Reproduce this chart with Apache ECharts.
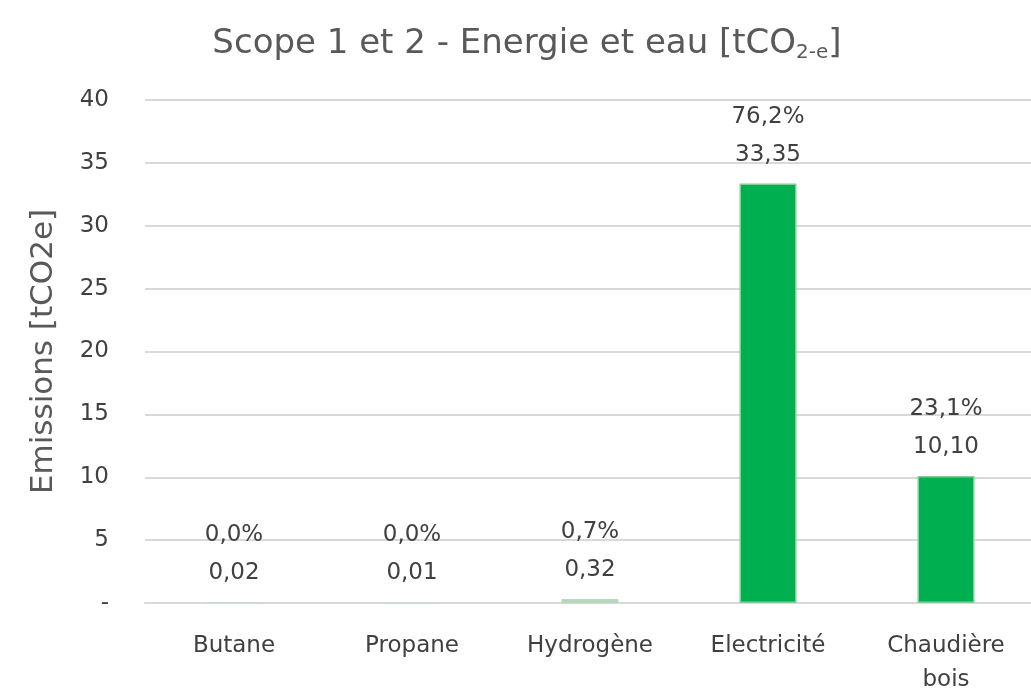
<!DOCTYPE html>
<html>
<head>
<meta charset="utf-8">
<script src="https://cdn.jsdelivr.net/npm/echarts@6/dist/echarts.min.js"></script>
<style>
  html, body { margin: 0; padding: 0; background: #fff; }
  #chart { width: 1031px; height: 690px; }
</style>
</head>
<body>
<div id="chart"></div>
<script>
// Emission sources (scope 1 & 2)
const categories = ['Butane', 'Propane', 'Hydrogène', 'Electricité', 'Chaudière\nbois'];
const emissions = [0.02, 0.01, 0.32, 33.35, 10.10];      // tCO2e
const shares = [0.0, 0.0, 0.7, 76.2, 23.1];              // % of total
const barColors = ['#c8dccb', '#c8dccb', '#b3d8bb', '#00b050', '#00b050'];
const yTicks = [0, 5, 10, 15, 20, 25, 30, 35, 40];

const fontFamily = '"DejaVu Sans", "Liberation Sans", sans-serif';
const fmt = (v, d) => v.toFixed(d).replace('.', ',');

const chart = echarts.init(document.getElementById('chart'));
chart.setOption({
  animation: false,
  backgroundColor: '#ffffff',
  title: {
    text: 'Scope 1 et 2 - Energie et eau [tCO{sub|2-e}]',
    left: 522,
    textAlign: 'center',
    top: 21,
    textStyle: {
      fontFamily: fontFamily,
      fontSize: 34,
      fontWeight: 'normal',
      color: '#595959',
      rich: {
        sub: { fontFamily: fontFamily, fontSize: 20, color: '#595959', verticalAlign: 'bottom', padding: [17, 0, 0, 0] }
      }
    }
  },
  grid: { left: 145, right: -4, top: 100, bottom: 87, containLabel: false, outerBoundsMode: 'none' },
  xAxis: {
    type: 'category',
    data: categories,
    axisLine: { show: true, lineStyle: { color: '#d9d9d9', width: 2 } },
    axisTick: { show: false },
    axisLabel: {
      margin: 26,
      fontFamily: fontFamily,
      fontSize: 23,
      color: '#404040',
      lineHeight: 34,
      interval: 0
    }
  },
  yAxis: {
    type: 'value',
    min: yTicks[0],
    max: yTicks[yTicks.length - 1],
    interval: yTicks[1] - yTicks[0],
    name: 'Emissions [tCO2e]',
    nameLocation: 'middle',
    nameGap: 86,
    nameTextStyle: { fontFamily: fontFamily, fontSize: 31, color: '#595959' },
    axisLine: { show: false },
    axisTick: { show: false },
    axisLabel: {
      margin: 36,
      fontFamily: fontFamily,
      fontSize: 23,
      color: '#404040',
      formatter: v => (v === 0 ? '-' : String(v))
    },
    splitLine: { lineStyle: { color: '#d9d9d9', width: 2 } }
  },
  series: [{
    type: 'bar',
    barWidth: 57,
    data: emissions.map((v, i) => ({
      value: v,
      itemStyle: { color: barColors[i], borderColor: i >= 3 ? '#7fcf97' : barColors[i], borderWidth: i >= 3 ? 1.5 : 1 }
    })),
    label: {
      show: true,
      position: 'top',
      distance: 10,
      fontFamily: fontFamily,
      fontSize: 23,
      color: '#404040',
      lineHeight: 38,
      formatter: p => fmt(shares[p.dataIndex], 1) + '%\n' + fmt(emissions[p.dataIndex], 2)
    }
  }]
});
</script>
</body>
</html>
